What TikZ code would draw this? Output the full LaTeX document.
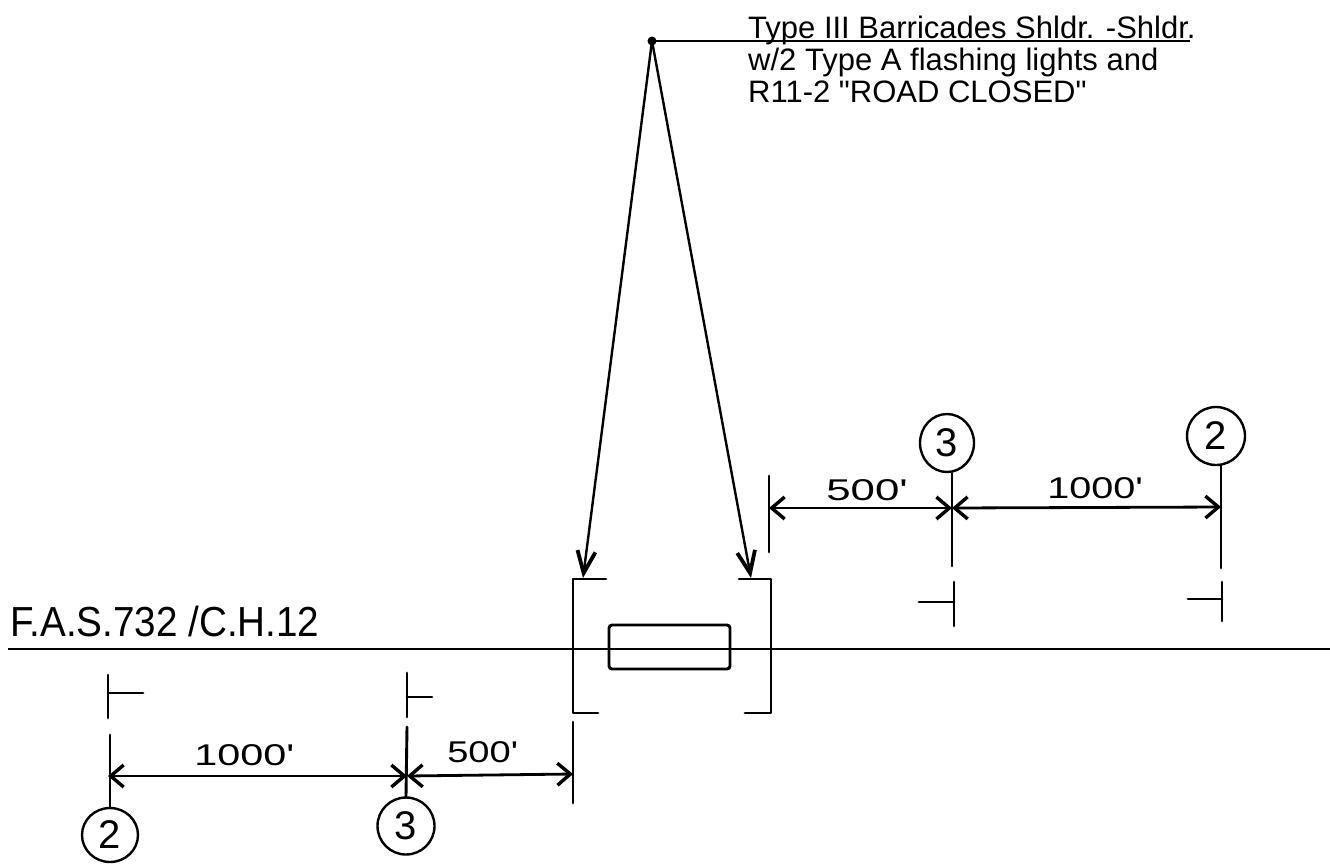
\documentclass[tikz,border=0pt]{standalone}
\usepackage{fontspec}
\newfontfamily\lf{Liberation Sans}
\usetikzlibrary{arrows.meta,shapes.geometric}
\tikzset{
  ink/.style={line width=2.9pt,black,line cap=round,line join=round},
  thinink/.style={line width=2.4pt,black,line cap=round},
  dimline/.style={line width=2.8pt,black,{Straight Barb[length=13pt,width=22pt,line width=3.4pt]}-{Straight Barb[length=13pt,width=22pt,line width=3.4pt]}},
  leader/.style={thinink,-{Straight Barb[length=22pt,width=18pt,line width=3.8pt]}},
  bubble/.style={ellipse,draw,line width=2.4pt,inner sep=0pt,font=\lf\fontsize{40}{40}\selectfont},
  hand/.style={inner sep=0pt,anchor=base west,font=\lf\fontsize{30}{30}\selectfont},
  hint/.style={inner sep=0pt,anchor=north west,font=\lf\fontsize{31}{32}\selectfont,align=left}
}
\begin{document}
\begin{tikzpicture}[x=1pt,y=-1pt]
\useasboundingbox (0,0) rectangle (1330,863);
\fill[white] (0,0) rectangle (1330,863);
% road
\coordinate (roadL) at (8,649); \coordinate (roadR) at (1330,649);
\draw[line width=2.9pt] (roadL) -- (roadR);
\node[inner sep=0pt,anchor=base west,font=\lf\fontsize{42}{42}\selectfont,xscale=0.92] (roadname) at (10,636) {F.A.S.732 /C.H.12};
% callout
\node[hint] (note) at (748,16) {Type III Barricades Shldr. -Shldr.\\w/2 Type A flashing lights and\\R11-2 "ROAD CLOSED"};
\coordinate (apex) at (652,41); \coordinate (noteEnd) at (1190,41);
\fill (apex) circle (4.5pt);
\draw[line width=2.8pt] (apex) -- (noteEnd);
\coordinate (tipL) at (583,578); \coordinate (tipR) at (751,578);
\draw[leader] (apex) -- (tipL);
\draw[leader] (apex) -- (tipR);
% barricades
\coordinate (a1) at (606,579); \coordinate (a2) at (573,579); \coordinate (a3) at (573,713); \coordinate (a4) at (598,713);
\draw[ink] (a1) -- (a2) -- (a3) -- (a4);
\coordinate (b1) at (739,579); \coordinate (b2) at (771,579); \coordinate (b3) at (771,713); \coordinate (b4) at (745,713);
\draw[ink] (b1) -- (b2) -- (b3) -- (b4);
% bridge
\node[draw,line width=2.9pt,rounded corners=3pt,minimum width=121pt,minimum height=44pt,inner sep=0pt] (bridge) at (669.5,647) {};
% lower left signs
\coordinate (t1a) at (108,675); \coordinate (t1b) at (108,718); \coordinate (t1m) at (108,693); \coordinate (t1e) at (143,693);
\draw[ink] (t1a) -- (t1b); \draw[ink] (t1m) -- (t1e);
\coordinate (t2a) at (407,673); \coordinate (t2b) at (407,717); \coordinate (t2m) at (407,697); \coordinate (t2e) at (432,697);
\draw[ink] (t2a) -- (t2b); \draw[ink] (t2m) -- (t2e);
\node[bubble,minimum width=56pt,minimum height=54pt] (c2l) at (110,835) {2};
\node[bubble,minimum width=57pt,minimum height=57pt] (c3l) at (406,826) {3};
\coordinate (v1) at (110,735); \coordinate (v2) at (407,727); \coordinate (v3t) at (573,722); \coordinate (v3b) at (573,803);
\draw[ink] (v1) -- (c2l.north);
\draw[ink] (v2) -- (c3l.north);
\draw[ink] (v3t) -- (v3b);
\coordinate (d1) at (108,776); \coordinate (d2) at (407,776); \coordinate (d3) at (573,774);
\draw[dimline] (d1) -- (d2);
\draw[dimline] (d2) -- (d3);
\node[hand,xscale=1.38] (l1000l) at (194,765) {1000'};
\node[hand,xscale=1.27] (l500l) at (447,762) {500'};
% upper right signs
\node[bubble,minimum width=54pt,minimum height=58pt] (c3u) at (947,443) {3};
\node[bubble,minimum width=58pt,minimum height=58pt] (c2u) at (1216,436) {2};
\coordinate (u3b) at (952,566); \coordinate (u2b) at (1221,568);
\draw[ink] (c3u.south) ++(5,0) coordinate (u3t) -- (u3b);
\draw[ink] (c2u.south) ++(5,0) coordinate (u2t) -- (u2b);
\coordinate (u0t) at (769,476); \coordinate (u0b) at (769,552);
\draw[ink] (u0t) -- (u0b);
\coordinate (e0) at (769,508); \coordinate (e1) at (952,508); \coordinate (e2) at (1221,507);
\draw[dimline] (e0) -- (e1);
\draw[dimline] (e1) -- (e2);
\node[hand,xscale=1.46] (l500u) at (826,500) {500'};
\node[hand,xscale=1.32] (l1000u) at (1047,498) {1000'};
\coordinate (t3a) at (954,582); \coordinate (t3b) at (954,626); \coordinate (t3m) at (954,602); \coordinate (t3e) at (919,602);
\draw[ink] (t3a) -- (t3b); \draw[ink] (t3m) -- (t3e);
\coordinate (t4a) at (1222,582); \coordinate (t4b) at (1222,621); \coordinate (t4m) at (1222,599); \coordinate (t4e) at (1188,599);
\draw[ink] (t4a) -- (t4b); \draw[ink] (t4m) -- (t4e);
\end{tikzpicture}
\end{document}
